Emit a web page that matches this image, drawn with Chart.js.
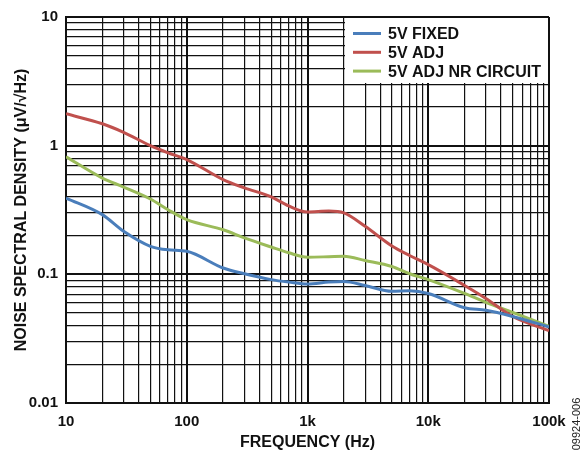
<!DOCTYPE html>
<html>
<head>
<meta charset="utf-8">
<script src="https://cdn.jsdelivr.net/npm/chart.js@4"></script>
<style>
  body { margin: 0; background: #fff; }
  #wrap { width: 581px; height: 451px; }
</style>
</head>
<body>
<div id="wrap"><canvas id="chart" width="581" height="451"></canvas></div>
<script>
/* DATA */
let freq = [10, 20, 30, 50, 70, 100, 200, 300, 500, 700, 1000, 1500, 2000, 3000, 5000, 7000, 10000, 20000, 30000, 50000, 100000];
let fixed5v = [0.392, 0.291, 0.216, 0.165, 0.155, 0.151, 0.112, 0.101, 0.091, 0.087, 0.084, 0.087, 0.088, 0.082, 0.0738, 0.0745, 0.071, 0.055, 0.0525, 0.047, 0.039];
let adj5v = [1.77, 1.48, 1.27, 1.0, 0.88, 0.78, 0.545, 0.47, 0.40, 0.34, 0.305, 0.31, 0.30, 0.236, 0.166, 0.14, 0.119, 0.082, 0.065, 0.047, 0.0365];
let adjNr5v = [0.82, 0.56, 0.477, 0.385, 0.318, 0.266, 0.222, 0.192, 0.163, 0.147, 0.136, 0.137, 0.138, 0.128, 0.115, 0.101, 0.091, 0.071, 0.0606, 0.0507, 0.0395];

let seriesNames = ["5V FIXED", "5V ADJ", "5V ADJ NR CIRCUIT"];
let seriesColors = ["#4a7ebb", "#c0504d", "#9bbb59"];

let xTickValues = [10, 100, 1000, 10000, 100000];
let xTickLabels = ["10", "100", "1k", "10k", "100k"];
let yTickValues = [0.01, 0.1, 1, 10];
let yTickLabels = ["0.01", "0.1", "1", "10"];

/* GRID: 1..9 x each decade */
function logGrid(min, max) {
    let out = [];
    for (let e = Math.round(Math.log10(min)); e < Math.round(Math.log10(max)); e++) {
        for (let m = 1; m < 10; m++) out.push(+(m * Math.pow(10, e)).toPrecision(3));
    }
    out.push(max);
    return out;
}
function isDecade(v) {
    let l = Math.log10(v);
    return Math.abs(l - Math.round(l)) < 1e-6;
}

function toPoints(vals) {
    return vals.map((v, i) => ({ x: freq[i], y: v }));
}

let font = "'Liberation Sans', Arial, sans-serif";

/* LEGEND inside plot */
let boxLegend = {
    id: "boxLegend",
    afterDraw(chart) {
        let ctx = chart.ctx;
        let a = chart.chartArea;
        ctx.save();
        ctx.fillStyle = "#fff";
        ctx.fillRect(345, a.top + 1, a.right - 345 - 1, 83 - a.top - 1);
        ctx.font = "bold 16px " + font;
        ctx.textBaseline = "middle";
        chart.data.datasets.forEach((ds, i) => {
            let y = 33.5 + i * 18.8;
            ctx.strokeStyle = ds.borderColor;
            ctx.lineWidth = 3;
            ctx.beginPath();
            ctx.moveTo(353, y);
            ctx.lineTo(381, y);
            ctx.stroke();
            ctx.fillStyle = "#111";
            ctx.fillText(ds.label, 388, y + 1);
        });
        // figure id
        ctx.translate(577, 424);
        ctx.rotate(-Math.PI / 2);
        ctx.font = "11px " + font;
        ctx.textAlign = "center";
        ctx.fillStyle = "#222";
        ctx.fillText("09924-006", 0, 0);
        ctx.restore();
    }
};

let gridStyle = {
    color: "#111",
    lineWidth: c => (c.tick && isDecade(c.tick.value) ? 2 : 1.2),
    drawTicks: false
};

new Chart(document.getElementById("chart"), {
    type: "line",
    data: {
        datasets: [
            { label: seriesNames[0], data: toPoints(fixed5v), borderColor: seriesColors[0] },
            { label: seriesNames[1], data: toPoints(adj5v), borderColor: seriesColors[1] },
            { label: seriesNames[2], data: toPoints(adjNr5v), borderColor: seriesColors[2] }
        ]
    },
    options: {
        responsive: false,
        animation: false,
        layout: { padding: { top: 17, right: 32, left: 0, bottom: 0 } },
        elements: {
            point: { radius: 0 },
            line: { borderWidth: 3, cubicInterpolationMode: "monotone", fill: false }
        },
        plugins: { legend: { display: false }, tooltip: { enabled: false } },
        scales: {
            x: {
                type: "logarithmic",
                min: 10,
                max: 100000,
                afterBuildTicks: s => { s.ticks = logGrid(10, 100000).map(v => ({ value: v })); },
                afterFit: s => { s.height = 48; },
                grid: gridStyle,
                border: { display: true, color: "#111", width: 2 },
                ticks: {
                    autoSkip: false,
                    maxRotation: 0,
                    padding: 10,
                    color: "#111",
                    font: { family: font, size: 15, weight: "bold" },
                    callback: v => { let i = xTickValues.indexOf(v); return i < 0 ? "" : xTickLabels[i]; }
                },
                title: {
                    display: true,
                    text: "FREQUENCY (Hz)",
                    color: "#111",
                    padding: { top: 0, bottom: -1 },
                    font: { family: font, size: 16, weight: "bold" }
                }
            },
            y: {
                type: "logarithmic",
                min: 0.01,
                max: 10,
                afterBuildTicks: s => { s.ticks = logGrid(0.01, 10).map(v => ({ value: v })); },
                afterFit: s => { s.width = 66; },
                grid: gridStyle,
                border: { display: true, color: "#111", width: 2 },
                ticks: {
                    autoSkip: false,
                    padding: 8,
                    color: "#111",
                    font: { family: font, size: 15, weight: "bold" },
                    callback: v => { let i = yTickValues.findIndex(t => Math.abs(t - v) < 1e-9); return i < 0 ? "" : yTickLabels[i]; }
                },
                title: {
                    display: true,
                    text: "NOISE SPECTRAL DENSITY (\u03BCV/\u221AHz)",
                    color: "#111",
                    padding: { top: 12, bottom: 0 },
                    font: { family: font, size: 16, weight: "bold" }
                }
            }
        }
    },
    plugins: [boxLegend]
});
</script>
</body>
</html>
